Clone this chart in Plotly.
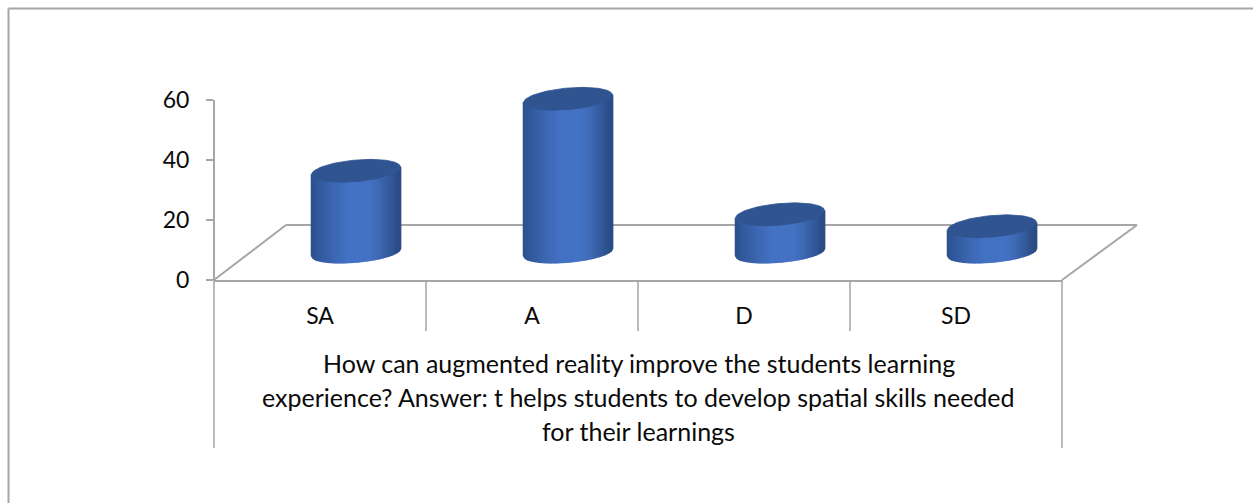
import numpy as np
import plotly.graph_objects as go

# Data
categories = ["SA", "A", "D", "SD"]
values = [27.5, 51.5, 13, 9]
y_ticks = [0, 20, 40, 60]
title_lines = [
    "How can augmented reality improve the students learning",
    "experience? Answer: t helps students to develop spatial skills needed",
    "for their learnings",
]

# Layout geometry (pixels)
W, H = 1253, 503
L, R, T, B = 214, 1062, 70, 280
Y_MAX = 70
FONT = "Lato"
FS_TITLE = 25
FS_TICK = 23
GREY = "#a6a6a6"
INK = "#0a0a0a"


def px(x):
    return (x - L) / (R - L)


def py(y):
    return (B - y) / (B - T)


def seg(x0, y0, x1, y1, w=2, c=GREY):
    return dict(type="line", xref="paper", yref="paper", x0=px(x0), y0=py(y0), x1=px(x1), y1=py(y1),
                line=dict(color=c, width=w), layer="below")


shapes = [
    seg(8.5, 8.5, W, 8.5),          # frame top
    seg(8.5, 8.5, 8.5, H),          # frame left
    seg(214, 280, 214, 100),        # value axis line
    seg(214, 280, 286, 225),        # floor
    seg(286, 225, 1137, 225),
    seg(1137, 225, 1062, 280),
    seg(214, 280, 214, 448, 1.2, "#8c8c8c"),
    seg(1062, 280, 1062, 448, 1.2, "#8c8c8c"),
    seg(426, 280, 426, 331, 1.2, "#8c8c8c"),
    seg(638, 280, 638, 331, 1.2, "#8c8c8c"),
    seg(850, 280, 850, 331, 1.2, "#8c8c8c"),
]

annotations = [
    dict(text=t, x=px(638.5), y=py(yc), xref="paper", yref="paper", showarrow=False,
         xanchor="center", yanchor="middle", font=dict(family=FONT, size=FS_TITLE, color=INK))
    for t, yc in zip(title_lines, [363, 397, 431])
]

# Cylinder geometry in axis units
X_SHIFT = 0.17      # depth shift to the right
RADIUS = 0.21
BASE = 9.3          # depth shift upward
TILT = 1.25
EL_BASE = 3.3
EL_TOP = 3.6
N = 45

C_DARK_L = np.array([0x2a, 0x4f, 0x8c])
C_DARK_R = np.array([0x29, 0x49, 0x80])
C_BRIGHT = np.array([0x44, 0x72, 0xc4])


def shade(u):
    if u < 0.0:
        t = min(1, (u + 1) / 0.85)
        c = C_DARK_L + (C_BRIGHT - C_DARK_L) * t ** 0.8
    elif u < 0.3:
        c = C_BRIGHT
    else:
        t = (u - 0.3) / 0.7
        c = C_BRIGHT + (C_DARK_R - C_BRIGHT) * t ** 1.3
    return "rgb(%d,%d,%d)" % tuple(int(round(v)) for v in c)


fig = go.Figure()
edges = np.linspace(-1, 1, N + 1)
for i, (cat, val) in enumerate(zip(categories, values)):
    cx = i + 0.5 + X_SHIFT
    top = val - 0.4
    for u0, u1 in zip(edges[:-1], edges[1:]):
        us = np.linspace(u0, u1, 3)
        root = np.sqrt(np.clip(1 - us ** 2, 0, 1))
        xs = cx + RADIUS * us
        ys_bottom = BASE + TILT * us - EL_BASE * root
        ys_top = BASE + top + TILT * us - EL_TOP * root
        x_poly = np.concatenate([xs, xs[::-1], xs[:1]])
        y_poly = np.concatenate([ys_bottom, ys_top[::-1], ys_bottom[:1]])
        col = shade((u0 + u1) / 2)
        fig.add_trace(go.Scatter(x=x_poly, y=y_poly, mode="lines", fill="toself", fillcolor=col,
                                 line=dict(color=col, width=1.6), cliponaxis=False,
                                 hoverinfo="skip", showlegend=False))
    t = np.linspace(0, 2 * np.pi, 121)
    fig.add_trace(go.Scatter(x=cx + RADIUS * np.cos(t),
                             y=BASE + top + TILT * np.cos(t) + EL_TOP * np.sin(t),
                             mode="lines", fill="toself", fillcolor="#30548f",
                             line=dict(color="#30548f", width=0.8), cliponaxis=False,
                             name=cat, hoverinfo="skip", showlegend=False))

fig.update_layout(
    width=W, height=H,
    margin=dict(l=L, r=W - R, t=T, b=H - B),
    paper_bgcolor="white", plot_bgcolor="white",
    showlegend=False,
    shapes=shapes,
    annotations=annotations,
    font=dict(family=FONT, size=FS_TICK, color=INK),
    xaxis=dict(range=[0, 4], tickmode="array", tickvals=[i + 0.5 for i in range(4)], ticktext=categories,
               showgrid=False, zeroline=False, showline=True, linecolor=GREY, linewidth=2,
               ticks="outside", ticklen=14, tickcolor="rgba(0,0,0,0)",
               tickfont=dict(family=FONT, size=FS_TICK, color=INK)),
    yaxis=dict(range=[0, Y_MAX], tickmode="array", tickvals=y_ticks, showgrid=False, zeroline=False,
               showline=False, ticks="outside", ticklen=7, tickcolor=GREY,
               tickwidth=2, ticklabelstandoff=12,
               tickfont=dict(family=FONT, size=FS_TICK, color=INK)),
)

fig.write_html("out.html", config={"displayModeBar": False}, post_script="document.body.style.margin='0';")
